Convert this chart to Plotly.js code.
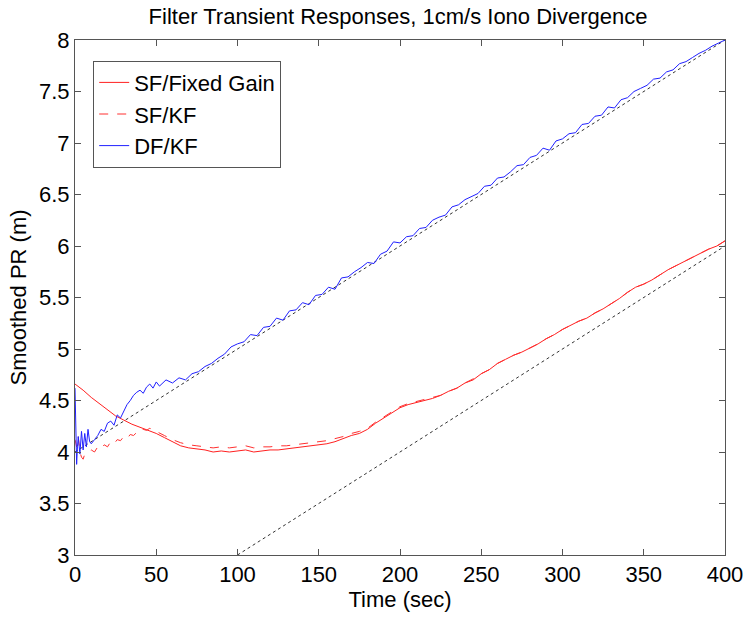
<!DOCTYPE html>
<html>
<head>
<meta charset="utf-8">
<script src="https://cdn.plot.ly/plotly-3.0.1.min.js"></script>
<style>html,body{margin:0;padding:0;background:#fff;}#chart{width:744px;height:619px;}</style>
</head>
<body>
<div id="chart"></div>
<script>
// Reference (1 cm/s divergence) dotted lines
const refX1 = [0, 400];
const refY1 = [4, 8];
const refX2 = [100, 400];
const refY2 = [3, 6];

// SF/Fixed Gain
const sfFixedT = [0,5,10,15,20,25,30,35,40,45,50,55,60,65,70,75,80,85,90,95,100,105,110,115,120,125,130,135,140,145,150,155,160,165,170,175,180,185,190,195,200,205,210,215,220,225,230,235,240,245,250,255,260,265,270,275,280,285,290,295,300,305,310,315,320,325,330,335,340,345,350,355,360,365,370,375,380,385,390,395,400];
const sfFixedY = [4.66,4.60,4.53,4.47,4.41,4.35,4.31,4.27,4.24,4.21,4.18,4.14,4.10,4.06,4.04,4.03,4.02,4.00,4.01,4.00,4.01,4.02,4.00,4.01,4.02,4.02,4.03,4.04,4.05,4.06,4.07,4.08,4.10,4.13,4.16,4.18,4.22,4.28,4.33,4.38,4.43,4.46,4.48,4.50,4.52,4.55,4.59,4.62,4.67,4.70,4.76,4.80,4.86,4.90,4.94,4.97,5.01,5.05,5.10,5.14,5.19,5.23,5.27,5.30,5.35,5.39,5.44,5.49,5.55,5.60,5.63,5.67,5.72,5.77,5.81,5.85,5.89,5.93,5.97,6.00,6.05];

// SF/KF
const sfKfT = [0,1,2,3,4,5,6,8,10,12,14,16,18,20,22,24,26,28,30,32,34,36,38,40,42,44,46,48,50,55,60,65,70,75,80,85,90,95,100,105,110,115,120,125,130,135,140,145,150,155,160,165,170,175,180,185,190,195,200,205,210,215,220,225,230,235,240,245,250,255,260,265,270,275,280,285,290,295,300,305,310,315,320,325,330,335,340,345,350,355,360,365,370,375,380,385,390,395,400];
const sfKfY = [4.12,4.05,4.15,4.00,3.95,3.93,3.98,4.00,4.02,4.00,4.05,4.03,4.07,4.05,4.10,4.08,4.12,4.11,4.15,4.13,4.17,4.16,4.19,4.18,4.22,4.21,4.23,4.22,4.20,4.16,4.12,4.09,4.07,4.06,4.05,4.04,4.05,4.04,4.05,4.06,4.04,4.05,4.05,4.06,4.06,4.07,4.08,4.09,4.10,4.11,4.13,4.15,4.18,4.20,4.23,4.29,4.34,4.39,4.44,4.47,4.49,4.51,4.53,4.55,4.59,4.62,4.67,4.71,4.76,4.80,4.86,4.90,4.94,4.97,5.01,5.05,5.10,5.14,5.19,5.23,5.27,5.30,5.35,5.39,5.44,5.49,5.55,5.60,5.63,5.67,5.72,5.77,5.81,5.85,5.89,5.93,5.97,6.00,6.05];

// DF/KF
const dfKfT = [0,0.5,1,1.5,2,3,4,5,6,7,8,9,10,12,14,16,18,20,22,24,26,28,30,32,34,36,38,40,42,44,46,48,50,52,56,60,64,68,72,76,80,84,88,92,96,100,104,108,112,116,120,124,128,132,136,140,144,148,152,156,160,164,168,172,176,180,184,188,192,196,200,204,208,212,216,220,224,228,232,236,240,244,248,252,256,260,264,268,272,276,280,284,288,292,296,300,304,308,312,316,320,324,328,332,336,340,344,348,352,356,360,364,368,372,376,380,384,388,392,396,400];
const dfKfY = [4.62,4.20,3.88,4.05,4.15,3.98,4.20,4.02,4.18,4.05,4.22,4.10,4.08,4.12,4.16,4.22,4.20,4.28,4.30,4.26,4.36,4.33,4.40,4.46,4.50,4.55,4.58,4.60,4.57,4.63,4.66,4.62,4.68,4.64,4.70,4.67,4.72,4.70,4.76,4.78,4.83,4.86,4.91,4.95,5.02,5.05,5.07,5.14,5.13,5.21,5.22,5.30,5.28,5.37,5.38,5.45,5.43,5.52,5.53,5.60,5.58,5.69,5.70,5.75,5.79,5.84,5.83,5.92,5.95,6.04,6.03,6.09,6.10,6.17,6.18,6.25,6.28,6.30,6.38,6.40,6.45,6.48,6.51,6.58,6.59,6.66,6.67,6.72,6.78,6.79,6.86,6.88,6.95,6.93,7.02,7.04,7.09,7.10,7.18,7.19,7.26,7.27,7.35,7.34,7.42,7.44,7.50,7.53,7.56,7.62,7.63,7.69,7.71,7.77,7.79,7.83,7.87,7.90,7.94,7.97,8.00];

const xTicks = [0,50,100,150,200,250,300,350,400];
const yTicks = [3,3.5,4,4.5,5,5.5,6,6.5,7,7.5,8];

const FONT = 'Liberation Sans, Arial, Helvetica, sans-serif';
const FS = 22;
const dotStyle = {color: '#333', width: 1, dash: 'dot'};

const traces = [
  {x: refX1, y: refY1, mode: 'lines', line: dotStyle, showlegend: false, hoverinfo: 'skip'},
  {x: refX2, y: refY2, mode: 'lines', line: dotStyle, showlegend: false, hoverinfo: 'skip'},
  {x: sfFixedT, y: sfFixedY, mode: 'lines', name: 'SF/Fixed Gain', line: {color: '#ff2020', width: 1}},
  {x: sfKfT, y: sfKfY, mode: 'lines', name: 'SF/KF', line: {color: '#ff3030', width: 1, dash: 'dash'}},
  {x: dfKfT, y: dfKfY, mode: 'lines', name: 'DF/KF', line: {color: '#2020ff', width: 1}}
];

const axisCommon = {
  showgrid: false, zeroline: false, showline: true, mirror: 'ticks',
  linecolor: '#555', linewidth: 1, ticks: 'inside', ticklen: 6, tickcolor: '#555',
  ticklabeloverflow: 'allow',
  tickfont: {family: FONT, size: FS, color: '#000'}
};

const layout = {
  width: 744, height: 619,
  margin: {l: 75, r: 19, t: 40, b: 64},
  paper_bgcolor: '#fff', plot_bgcolor: '#fff',
  font: {family: FONT, color: '#000'},
  title: {text: 'Filter Transient Responses, 1cm/s Iono Divergence', font: {family: FONT, size: FS, color: '#000'}, x: 0.535, xanchor: 'center', y: 0.973, yanchor: 'middle'},
  xaxis: Object.assign({}, axisCommon, {range: [0, 400], tickvals: xTicks, ticktext: xTicks.map(String),
    title: {text: 'Time (sec)', font: {family: FONT, size: FS, color: '#000'}, standoff: 2}}),
  yaxis: Object.assign({}, axisCommon, {range: [3, 8], tickvals: yTicks, ticktext: yTicks.map(String),
    title: {text: 'Smoothed PR (m)', font: {family: FONT, size: FS, color: '#000'}, standoff: 6}}),
  legend: {x: 0.028, y: 0.96, xanchor: 'left', yanchor: 'top', bgcolor: '#fff', bordercolor: '#555', borderwidth: 1,
    font: {family: FONT, size: FS, color: '#000'}, tracegroupgap: 0, entrywidth: 180, entrywidthmode: 'pixels'},
  showlegend: true
};

Plotly.newPlot('chart', traces, layout, {displayModeBar: false, staticPlot: true});
</script>
</body>
</html>
